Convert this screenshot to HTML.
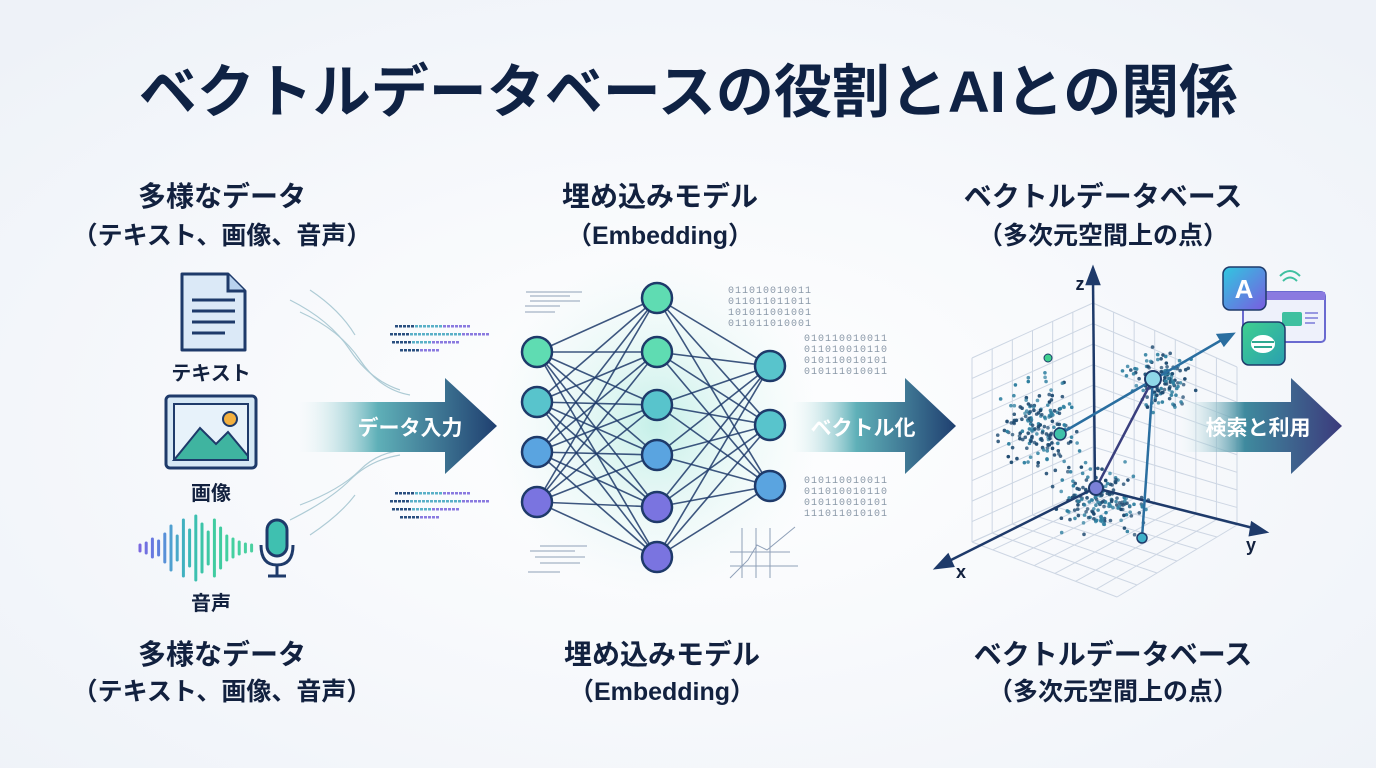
<!DOCTYPE html>
<html><head><meta charset="utf-8"><style>
html,body{margin:0;padding:0;width:1376px;height:768px;overflow:hidden;background:#f4f7fb;}
svg{display:block;font-family:"Liberation Sans","Noto Sans CJK JP",sans-serif;}
</style></head><body>
<svg id="s" width="1376" height="768" viewBox="0 0 1376 768" xmlns="http://www.w3.org/2000/svg">
<defs>
<radialGradient id="bg" cx="50%" cy="55%" r="70%"><stop offset="0" stop-color="#ffffff"/><stop offset="1" stop-color="#eef2f8"/></radialGradient>
<radialGradient id="glow" cx="50%" cy="50%" r="50%"><stop offset="0" stop-color="#bfeee6" stop-opacity=".9"/><stop offset="1" stop-color="#e8f7f6" stop-opacity="0"/></radialGradient>
<linearGradient id="a1" x1="0" x2="1"><stop offset="0" stop-color="#dff3f3" stop-opacity="0"/><stop offset=".4" stop-color="#5fb0b8"/><stop offset="1" stop-color="#1f3f70"/></linearGradient>
<linearGradient id="a3" x1="0" x2="1"><stop offset="0" stop-color="#dff3f3" stop-opacity="0"/><stop offset=".4" stop-color="#3f8a9e"/><stop offset="1" stop-color="#3c3a7c"/></linearGradient>
<linearGradient id="app1" x1="0" y1="0" x2="1" y2="1"><stop offset="0" stop-color="#2fc8e0"/><stop offset="1" stop-color="#7a5be0"/></linearGradient>
<linearGradient id="app2" x1="0" y1="0" x2="1" y2="1"><stop offset="0" stop-color="#3fd08f"/><stop offset="1" stop-color="#2a9fb0"/></linearGradient>
</defs>
<rect width="1376" height="768" fill="url(#bg)"/>
<ellipse cx="655" cy="425" rx="170" ry="170" fill="url(#glow)"/>

<text x="688" y="112" text-anchor="middle" font-size="58" font-weight="700" fill="#0f2244">ベクトルデータベースの役割とAIとの関係</text>

<g font-weight="700" fill="#12213f" text-anchor="middle">
<text x="222" y="206" font-size="28">多様なデータ</text>
<text x="222" y="244" font-size="25">（テキスト、画像、音声）</text>
<text x="660" y="206" font-size="28">埋め込みモデル</text>
<text x="660" y="244" font-size="25">（Embedding）</text>
<text x="1103" y="206" font-size="28">ベクトルデータベース</text>
<text x="1103" y="244" font-size="25">（多次元空間上の点）</text>
<text x="222" y="664" font-size="28">多様なデータ</text>
<text x="222" y="700" font-size="25">（テキスト、画像、音声）</text>
<text x="662" y="664" font-size="28">埋め込みモデル</text>
<text x="662" y="700" font-size="25">（Embedding）</text>
<text x="1113" y="664" font-size="28">ベクトルデータベース</text>
<text x="1113" y="700" font-size="25">（多次元空間上の点）</text>
<text x="211" y="380" font-size="20">テキスト</text>
<text x="211" y="500" font-size="20">画像</text>
<text x="211" y="610" font-size="20">音声</text>
</g>

<path d="M182 274 H228 L245 291 V350 H182 Z" fill="#dbe9f7" stroke="#1e3a6a" stroke-width="3" stroke-linejoin="round"/>
<path d="M228 274 V291 H245" fill="#b8d2ee" stroke="#1e3a6a" stroke-width="3"/>
<g stroke="#1e3a6a" stroke-width="3"><line x1="192" y1="300" x2="235" y2="300"/><line x1="192" y1="311" x2="235" y2="311"/><line x1="192" y1="322" x2="235" y2="322"/><line x1="192" y1="333" x2="225" y2="333"/></g>
<rect x="166" y="396" width="90" height="72" rx="4" fill="#d6e8f5" stroke="#1e3a6a" stroke-width="3"/>
<rect x="174" y="404" width="74" height="56" fill="#e7f2fa" stroke="#1e3a6a" stroke-width="2"/>
<path d="M174 460 L200 428 L216 444 L228 432 L248 456 V460 Z" fill="#3fb4a0" stroke="#1e3a6a" stroke-width="2"/>
<circle cx="230" cy="419" r="7" fill="#f3b03f" stroke="#1e3a6a" stroke-width="2"/>
<g id="wv" stroke-width="3" stroke-linecap="round"></g>
<rect x="267" y="520" width="20" height="36" rx="10" fill="#3fc0b0" stroke="#1e3a6a" stroke-width="3"/>
<path d="M261 545 Q261 565 277 565 Q293 565 293 545" fill="none" stroke="#1e3a6a" stroke-width="3"/>
<line x1="277" y1="565" x2="277" y2="575" stroke="#1e3a6a" stroke-width="3"/><line x1="268" y1="576" x2="286" y2="576" stroke="#1e3a6a" stroke-width="3"/>

<g fill="none" stroke="#9cc0cc" stroke-width="1.2" opacity=".8">
<path d="M290 300 Q330 320 350 350 T400 390"/><path d="M300 312 Q340 330 360 360 T410 395"/><path d="M310 290 Q340 310 355 335"/>
<path d="M290 520 Q330 500 350 480 T400 455"/><path d="M300 505 Q340 490 360 470 T410 450"/><path d="M310 535 Q340 515 355 495"/>
</g>
<g id="streams"></g>

<path d="M298 402 H445 V378 L497 426 L445 474 V452 H298 Z" fill="url(#a1)"/>
<text x="410" y="435" text-anchor="middle" font-size="21" font-weight="700" fill="#fff">データ入力</text>
<path d="M790 402 H905 V378 L956 426 L905 474 V452 H790 Z" fill="url(#a1)"/>
<text x="863" y="435" text-anchor="middle" font-size="21" font-weight="700" fill="#fff">ベクトル化</text>

<g id="net"></g>
<g font-family="Liberation Mono,monospace" font-size="10" fill="#8a98a8" letter-spacing="1">
<text x="728" y="293">011010010011</text><text x="728" y="304">011011011011</text><text x="728" y="315">101011001001</text><text x="728" y="326">011011010001</text>
<text x="804" y="341">010110010011</text><text x="804" y="352">011010010110</text><text x="804" y="363">010110010101</text><text x="804" y="374">010111010011</text>
<text x="804" y="483">010110010011</text><text x="804" y="494">011010010110</text><text x="804" y="505">010110010101</text><text x="804" y="516">111011010101</text>
</g>
<g stroke="#8fa0b8" stroke-width="1"><line x1="526" y1="292" x2="582" y2="292"/><line x1="530" y1="296" x2="570" y2="296"/><line x1="530" y1="301" x2="580" y2="301"/><line x1="525" y1="306" x2="560" y2="306"/><line x1="525" y1="312" x2="555" y2="312"/>
<line x1="540" y1="546" x2="587" y2="546"/><line x1="530" y1="551" x2="575" y2="551"/><line x1="535" y1="557" x2="585" y2="557"/><line x1="540" y1="563" x2="580" y2="563"/><line x1="528" y1="572" x2="560" y2="572"/>
<line x1="742" y1="528" x2="742" y2="578"/><line x1="756" y1="528" x2="756" y2="578"/><line x1="770" y1="528" x2="770" y2="578"/><line x1="730" y1="552" x2="790" y2="552"/><line x1="730" y1="566" x2="798" y2="566"/>
<polyline points="730,578 748,560 757,545 767,550 795,527" fill="none"/></g>

<g id="grid" stroke="#cdd6e3" stroke-width="1" fill="none"></g>
<g id="dots"></g>
<path d="M1180 402 H1291 V378 L1342 426 L1291 474 V452 H1180 Z" fill="url(#a3)"/>
<text x="1258" y="435" text-anchor="middle" font-size="21" font-weight="700" fill="#fff">検索と利用</text>
<g stroke="#1e3a6a" stroke-width="2.5" fill="#1e3a6a">
<line x1="1095" y1="488" x2="1093" y2="280"/><path d="M1093 268 L1087 284 L1099 284 Z"/>
<line x1="1095" y1="488" x2="945" y2="563"/><path d="M936 568 L948 555 L953 566 Z"/>
<line x1="1095" y1="488" x2="1257" y2="529"/><path d="M1266 532 L1252 523 L1250 535 Z"/>
</g>
<text x="1080" y="290" font-size="18" font-weight="700" fill="#12213f" text-anchor="middle">z</text>
<text x="961" y="578" font-size="18" font-weight="700" fill="#12213f" text-anchor="middle">x</text>
<text x="1251" y="551" font-size="18" font-weight="700" fill="#12213f" text-anchor="middle">y</text>
<g stroke="#2a6ea0" stroke-width="2.5">
<line x1="1060" y1="434" x2="1225" y2="338"/><path d="M1233 334 L1218 335 L1224 345 Z" fill="#2a6ea0"/>
<line x1="1153" y1="379" x2="1096" y2="488" stroke="#3a3f7e"/>
<line x1="1153" y1="379" x2="1142" y2="538"/>
</g>
<circle cx="1060" cy="434" r="6" fill="#3fc0a8" stroke="#1e3a6a" stroke-width="1.5"/>
<circle cx="1153" cy="379" r="8" fill="#8fd8e8" stroke="#1e3a6a" stroke-width="2"/>
<circle cx="1096" cy="488" r="7" fill="#7a80d8" stroke="#1e3a6a" stroke-width="2"/>
<circle cx="1142" cy="538" r="5" fill="#3fb0c8" stroke="#1e3a6a" stroke-width="1.5"/>
<circle cx="1048" cy="358" r="4" fill="#3fd08f" stroke="#1e3a6a" stroke-width="1"/>

<rect x="1243" y="292" width="82" height="50" rx="4" fill="#eef1fb" stroke="#6a6ad0" stroke-width="2"/>
<rect x="1243" y="292" width="82" height="8" fill="#8a7ae0"/>
<rect x="1282" y="312" width="20" height="14" rx="2" fill="#3fc0a0"/>
<g stroke="#7a7ad8" stroke-width="1.5"><line x1="1305" y1="313" x2="1318" y2="313"/><line x1="1305" y1="318" x2="1318" y2="318"/><line x1="1305" y1="323" x2="1315" y2="323"/></g>
<rect x="1223" y="267" width="43" height="43" rx="7" fill="url(#app1)" stroke="#1e3a6a" stroke-width="1.5"/>
<text x="1244" y="298" text-anchor="middle" font-size="26" fill="#fff" font-weight="700">A</text>
<rect x="1242" y="322" width="43" height="43" rx="7" fill="url(#app2)" stroke="#1e3a6a" stroke-width="1.5"/>
<ellipse cx="1263" cy="344" rx="12" ry="9" fill="#fff"/><path d="M1252 342 H1274 M1254 347 H1272" stroke="#2fa890" stroke-width="2"/>
<g fill="none" stroke="#3fc0a0" stroke-width="2"><path d="M1283 281 Q1290 274 1297 281"/><path d="M1280 276 Q1290 266 1300 276"/></g>
</svg>
<script>
var NS="http://www.w3.org/2000/svg";
function el(p,t,a){var e=document.createElementNS(NS,t);for(var k in a)e.setAttribute(k,a[k]);p.appendChild(e);return e;}
var seed=7;function r(){seed=(seed*16807)%2147483647;return seed/2147483647;}
function g(){return (r()+r()+r()-1.5)/1.5;}
var wv=document.getElementById("wv");
var hs=[3,5,9,7,14,22,12,28,18,32,24,16,28,20,12,9,6,4,3];
var cols=["#7a68e0","#7070e0","#6878e0","#6080dc","#5890d8","#50a0d0","#48a8c8","#40b0c0","#3cb8b8","#3cc0b0","#3cc4a8","#3ec8a4","#40cca0","#40cca0","#42d0a0","#44d0a0","#46d0a0","#48d0a0","#4ad0a0"];
for(var i=0;i<hs.length;i++){var x=140+i*6.2;el(wv,"line",{x1:x,y1:548-hs[i],x2:x,y2:548+hs[i],stroke:cols[i]});}
var st=document.getElementById("streams");
[[325,395,470],[333,390,490],[341,392,460],[349,400,440],[492,395,470],[500,390,488],[508,392,460],[516,400,440]].forEach(function(s){
 for(var x=s[1];x<s[2];x+=4){el(st,"rect",{x:x,y:s[0],width:3,height:2.5,fill:x<s[1]+20?"#2a4f80":(x>s[2]-30?"#8a7ae0":"#5ab0c8")});}
});
var net=document.getElementById("net");
var L=[[537,[352,402,452,502]],[657,[298,352,405,455,507,557]],[770,[366,425,486]]];
for(var a=0;a<2;a++)L[a][1].forEach(function(y1){L[a+1][1].forEach(function(y2){el(net,"line",{x1:L[a][0],y1:y1,x2:L[a+1][0],y2:y2,stroke:"#1e3a6a","stroke-width":1.6,opacity:.85});});});
L.forEach(function(l){l[1].forEach(function(y){var t=(y-298)/260;var c=t<.25?"#5fdcb2":t<.5?"#58c4cc":t<.75?"#5aa4e0":"#7a74e0";el(net,"circle",{cx:l[0],cy:y,r:15,fill:c,stroke:"#1e3a6a","stroke-width":2.5});});});
var gr=document.getElementById("grid");
function lerp(a,b,t){return [a[0]+(b[0]-a[0])*t,a[1]+(b[1]-a[1])*t];}
function quad(p00,p10,p01,p11,n,m){
 for(var i=0;i<=n;i++){var t=i/n;var a=lerp(p00,p10,t),b=lerp(p01,p11,t);el(gr,"line",{x1:a[0],y1:a[1],x2:b[0],y2:b[1]});}
 for(var j=0;j<=m;j++){var t=j/m;var a=lerp(p00,p01,t),b=lerp(p10,p11,t);el(gr,"line",{x1:a[0],y1:a[1],x2:b[0],y2:b[1]});}
}
var A=[1093,303],B=[972,358],C=[972,542],D=[1093,488],E=[1237,367],F=[1237,525],G=[1117,597];
quad(B,A,C,D,6,9);
quad(A,E,D,F,7,9);
quad(C,D,G,F,6,7);
var d=document.getElementById("dots");
[[1040,425,30,38,170],[1160,380,28,24,130],[1100,500,38,28,170]].forEach(function(c){
 for(var i=0;i<c[4];i++){var x=c[0]+g()*c[2]*1.6,y=c[1]+g()*c[3]*1.6;
 el(d,"circle",{cx:x,cy:y,r:1.8,fill:r()<.5?"#2f7fa0":"#1e4a70",opacity:.7+r()*.3});}
});
</script>
</body></html>
